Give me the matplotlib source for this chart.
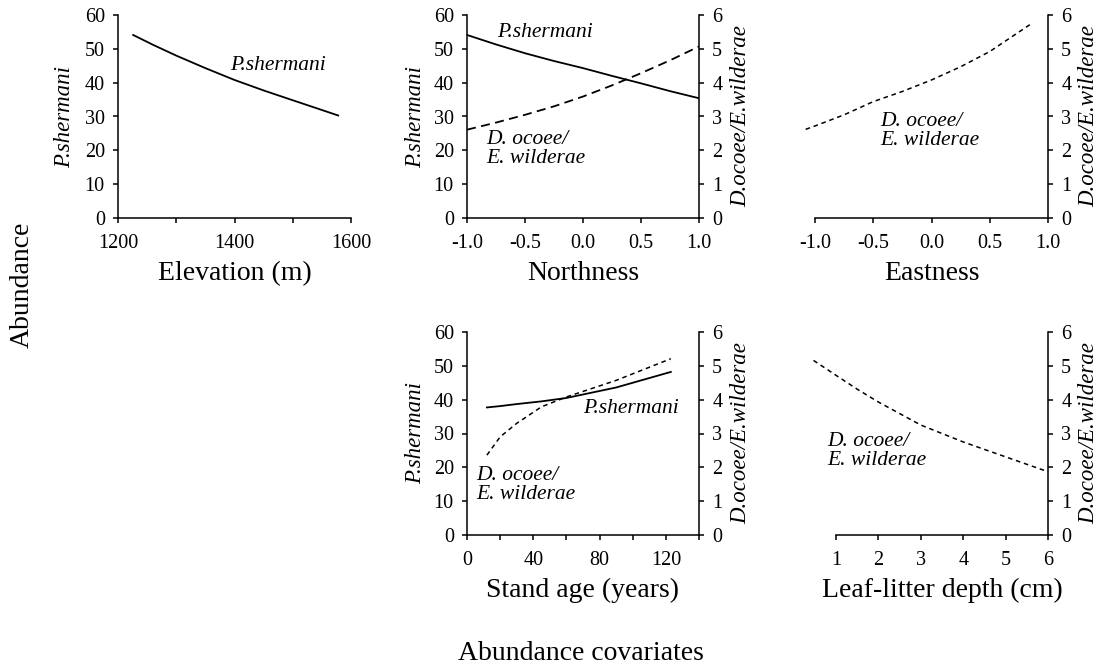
import matplotlib
matplotlib.use("Agg")
import matplotlib.pyplot as plt
from matplotlib.ticker import MultipleLocator

plt.rcParams["font.family"] = ["Liberation Serif", "DejaVu Serif"]
plt.rcParams["axes.linewidth"] = 1.1

# ---- data ----
elev_x = [1226, 1260, 1300, 1350, 1400, 1450, 1500, 1540, 1578]
elev_ps = [54.1, 51.2, 48.0, 44.3, 40.8, 37.7, 34.8, 32.5, 30.3]

north_x = [-1.0, -0.75, -0.5, -0.25, 0.0, 0.25, 0.5, 0.75, 1.0]
north_ps = [54.1, 51.3, 48.7, 46.4, 44.3, 42.0, 39.8, 37.5, 35.4]
north_do = [2.61, 2.82, 3.05, 3.30, 3.59, 3.92, 4.28, 4.66, 5.07]

east_x = [-1.08, -1.0, -0.75, -0.5, -0.25, 0.0, 0.25, 0.5, 0.86]
east_do = [2.62, 2.72, 3.05, 3.44, 3.74, 4.08, 4.47, 4.92, 5.75]

age_x = [12, 20, 30, 45, 60, 90, 123]
age_ps = [37.7, 38.1, 38.7, 39.5, 40.5, 43.6, 48.2]
age_do = [2.36, 2.9, 3.3, 3.79, 4.08, 4.57, 5.21]

litter_x = [0.47, 1, 1.5, 2, 3, 4, 5, 6]
litter_do = [5.16, 4.72, 4.31, 3.93, 3.25, 2.75, 2.31, 1.87]

W, H = 1103, 671
fig = plt.figure(figsize=(W / 100, H / 100), dpi=100)


def box(left, right, top, bottom):
    return [left / W, 1 - bottom / H, (right - left) / W, (bottom - top) / H]


TICK = 14.5
XLAB = 20
YLAB = 16.5
ANN = 15.5


def style(ax):
    ax.spines["top"].set_visible(False)
    ax.spines["right"].set_visible(False)
    ax.tick_params(which="both", direction="out", length=3.5, width=1.1,
                   labelsize=TICK, pad=6)
    ax.tick_params(axis="x", which="both", pad=8)


def no_left(ax):
    ax.spines["left"].set_visible(False)
    ax.tick_params(axis="y", which="both", left=False, labelleft=False)


def left_y(ax, xpos):
    ax.set_ylim(0, 60)
    ax.yaxis.set_major_locator(MultipleLocator(10))
    ax.set_ylabel("P.shermani", style="italic", fontsize=YLAB)
    ax.yaxis.set_label_coords(xpos, 0.5)


def right_y(ax, xpos):
    ax2 = ax.twinx()
    ax2.set_ylim(0, 6)
    ax2.yaxis.set_major_locator(MultipleLocator(1))
    for s in ["top", "left", "bottom"]:
        ax2.spines[s].set_visible(False)
    ax2.tick_params(direction="out", length=3.5, width=1.1, labelsize=TICK, pad=6)
    ax2.set_ylabel("D.ocoee/E.wilderae", style="italic", fontsize=YLAB)
    ax2.yaxis.set_label_coords(xpos, 0.5)
    return ax2


# Elevation
ax = fig.add_axes(box(118, 351, 15, 218))
style(ax)
left_y(ax, -0.185)
ax.set_xlim(1200, 1600)
ax.xaxis.set_major_locator(MultipleLocator(200))
ax.xaxis.set_minor_locator(MultipleLocator(100))
ax.plot(elev_x, elev_ps, color="black", lw=1.3)
ax.text(1475, 45, "P.shermani", style="italic", fontsize=ANN, ha="center", va="center")
ax.set_xlabel("Elevation (m)", fontsize=XLAB, labelpad=6)

# Northness
ax = fig.add_axes(box(467, 699, 15, 218))
style(ax)
left_y(ax, -0.177)
ax.set_xlim(-1, 1)
ax.xaxis.set_major_locator(MultipleLocator(0.5))
ax.xaxis.set_major_formatter(lambda v, p: f"{v:.1f}")
ax.plot(north_x, north_ps, color="black", lw=1.3)
ax2 = right_y(ax, 1.134)
ax2.plot(north_x, north_do, color="black", lw=1.3, linestyle=(0, (5, 3)))
ax.text(-0.74, 54.7, "P.shermani", style="italic", fontsize=ANN, ha="left", va="center")
ax.text(-0.83, 20.4, "D. ocoee/\nE. wilderae", style="italic", fontsize=ANN,
        ha="left", va="center", linespacing=1.0)
ax.set_xlabel("Northness", fontsize=XLAB, labelpad=6)

# Eastness
ax = fig.add_axes(box(815, 1048, 15, 218))
style(ax)
ax.set_xlim(-1, 1)
ax.xaxis.set_major_locator(MultipleLocator(0.5))
ax.xaxis.set_major_formatter(lambda v, p: f"{v:.1f}")
ax2 = right_y(ax, 1.129)
no_left(ax)
ax2.plot(east_x, east_do, color="black", lw=1.1, linestyle=(0, (3, 2.5)), clip_on=False)
ax2.text(-0.44, 2.56, "D. ocoee/\nE. wilderae", style="italic", fontsize=ANN,
         ha="left", va="center", linespacing=1.0)
ax.set_xlabel("Eastness", fontsize=XLAB, labelpad=6)

# Stand age
ax = fig.add_axes(box(467, 699, 332, 535))
style(ax)
left_y(ax, -0.177)
ax.set_xlim(0, 140)
ax.xaxis.set_major_locator(MultipleLocator(40))
ax.xaxis.set_minor_locator(MultipleLocator(20))
ax.plot(age_x, age_ps, color="black", lw=1.3)
ax2 = right_y(ax, 1.134)
ax2.plot(age_x, age_do, color="black", lw=1.1, linestyle=(0, (3, 2.5)))
ax.text(70, 37.5, "P.shermani", style="italic", fontsize=ANN, ha="left", va="center")
ax.text(5.4, 14.8, "D. ocoee/\nE. wilderae", style="italic", fontsize=ANN,
        ha="left", va="center", linespacing=1.0)
ax.set_xlabel("Stand age (years)", fontsize=XLAB, labelpad=6)

# Leaf-litter depth
ax = fig.add_axes(box(836, 1048, 332, 535))
style(ax)
ax.set_xlim(1, 6)
ax.xaxis.set_major_locator(MultipleLocator(1))
ax2 = right_y(ax, 1 + 30 / 212)
no_left(ax)
ax2.plot(litter_x, litter_do, color="black", lw=1.1, linestyle=(0, (3, 2.5)), clip_on=False)
ax2.text(0.79, 2.47, "D. ocoee/\nE. wilderae", style="italic", fontsize=ANN,
         ha="left", va="center", linespacing=1.0)
ax.set_xlabel("Leaf-litter depth (cm)", fontsize=XLAB, labelpad=6)

fig.text(22 / W, 1 - 285 / H, "Abundance", rotation=90, fontsize=XLAB,
         ha="center", va="center")
fig.text(581 / W, 1 - 653 / H, "Abundance covariates", fontsize=XLAB,
         ha="center", va="center")

fig.savefig("out.png", dpi=100)
